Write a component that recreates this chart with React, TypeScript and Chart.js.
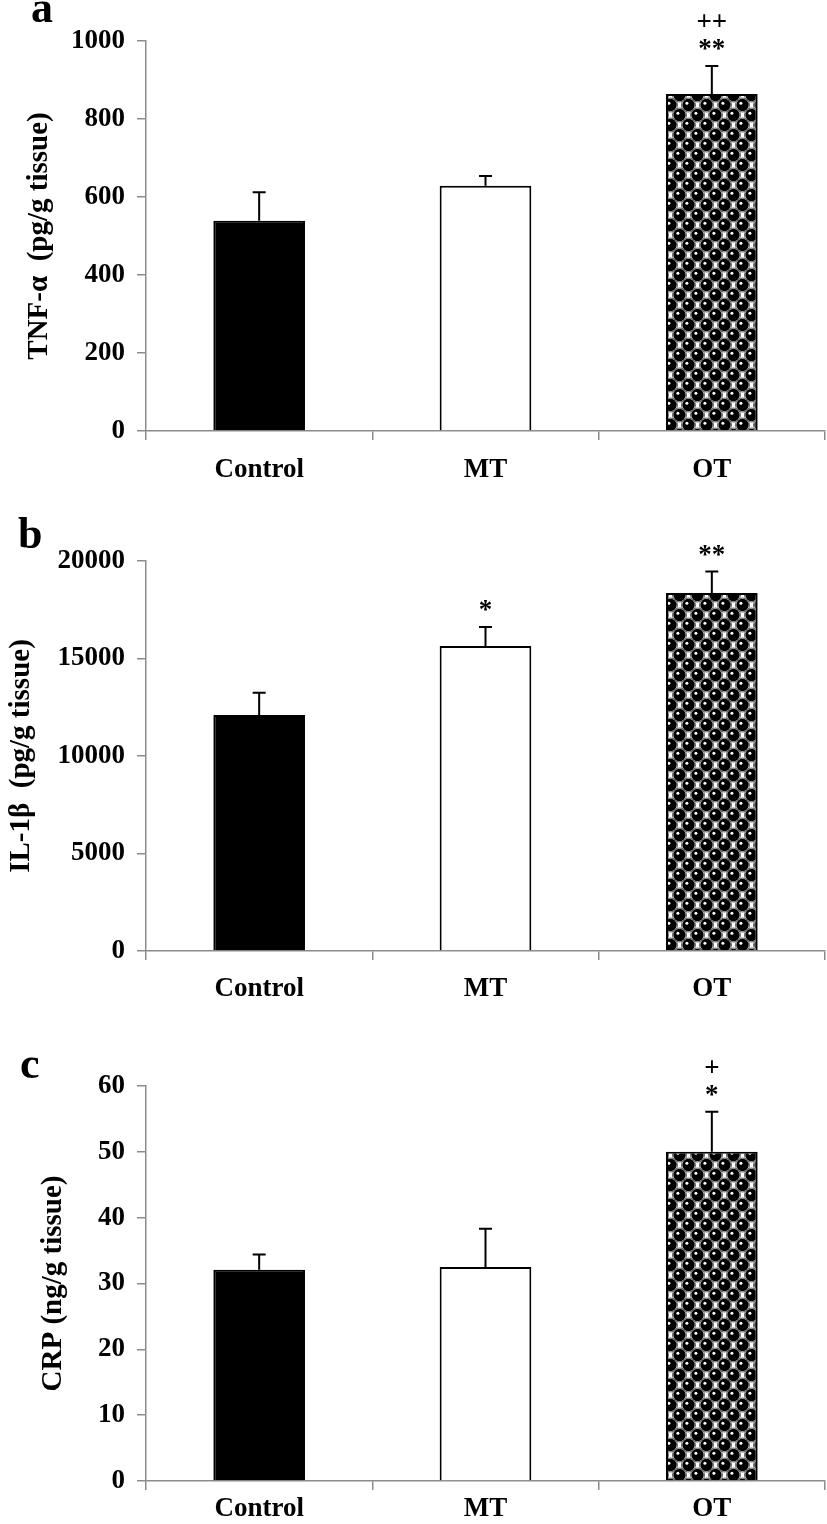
import React, { useEffect, useRef } from 'react';
import { Chart, registerables } from 'chart.js';

Chart.register(...registerables);

// ---------- data ----------
const categories = ['Control', 'MT', 'OT'];

const tnfMeans = [539, 629, 864];
const tnfSem = [73, 25, 72];
const tnfMarks = [[], [], ['**', '++']];

const il1bMeans = [12100, 15640, 18360];
const il1bSem = [1150, 980, 1100];
const il1bMarks = [[], ['*'], ['**']];

const crpMeans = [32.1, 32.5, 50.0];
const crpSem = [2.3, 5.8, 6.1];
const crpMarks = [[], [], ['*', '+']];

const FONT = "'Liberation Serif', 'Times New Roman', serif";
const AXIS_GRAY = '#8c8c8c';

function makePattern(): CanvasPattern | string {
  const tile = document.createElement('canvas');
  const w = 18;
  const h = 20;
  tile.width = w;
  tile.height = h;
  const c = tile.getContext('2d');
  if (!c) return '#555';
  c.fillStyle = '#fff';
  c.fillRect(0, 0, w, h);
  const centers = [
    [4.5, 5],
    [13.5, 15],
  ];
  for (const [cx, cy] of centers) {
    for (const dx of [-w, 0, w]) {
      for (const dy of [-h, 0, h]) {
        c.beginPath();
        c.arc(cx + dx, cy + dy, 7, 0, Math.PI * 2);
        c.strokeStyle = '#666';
        c.lineWidth = 1;
        c.stroke();
      }
    }
  }
  for (const [cx, cy] of centers) {
    for (const dx of [-w, 0, w]) {
      for (const dy of [-h, 0, h]) {
        c.beginPath();
        c.arc(cx + dx, cy + dy, 6.2, 0, Math.PI * 2);
        c.fillStyle = '#000';
        c.fill();
        c.beginPath();
        c.arc(cx + dx - 1.6, cy + dy - 1.8, 1.5, 0, Math.PI * 2);
        c.fillStyle = '#fff';
        c.fill();
      }
    }
  }
  const ctx = document.createElement('canvas').getContext('2d');
  const p = ctx ? ctx.createPattern(tile, 'repeat') : null;
  return p || '#555';
}

interface PanelProps {
  letter: string;
  letterX: number;
  letterY: number;
  title: string;
  titlePad: number;
  xPad: number;
  means: number[];
  sem: number[];
  marks: string[][];
  min: number;
  max: number;
  step: number;
  top: number;
  height: number;
  plotTop: number;
  plotBottom: number;
}

function Panel(props: PanelProps) {
  const ref = useRef<HTMLCanvasElement>(null);
  useEffect(() => {
    const canvas = ref.current;
    if (!canvas) return;
    const pattern = makePattern();
    const overlay = {
      id: 'overlay' + props.letter,
      afterDatasetsDraw(chart: any) {
        const ctx = chart.ctx as CanvasRenderingContext2D;
        const y = chart.scales.y;
        const meta = chart.getDatasetMeta(0);
        ctx.save();
        ctx.strokeStyle = '#000';
        ctx.lineWidth = 2;
        props.means.forEach((m, i) => {
          const xc = meta.data[i].x;
          const yTop = y.getPixelForValue(m);
          const yErr = y.getPixelForValue(m + props.sem[i]);
          ctx.beginPath();
          ctx.moveTo(xc, yTop);
          ctx.lineTo(xc, yErr);
          ctx.moveTo(xc - 6.5, yErr);
          ctx.lineTo(xc + 6.5, yErr);
          ctx.stroke();
          ctx.fillStyle = '#000';
          ctx.font = `bold 27px ${FONT}`;
          ctx.textAlign = 'center';
          ctx.textBaseline = 'alphabetic';
          props.marks[i].forEach((t, k) => {
            const cy = yErr - 21 - k * 24;
            const mt = ctx.measureText(t);
            const base = cy + (mt.actualBoundingBoxAscent - mt.actualBoundingBoxDescent) / 2;
            ctx.fillText(t, xc, base);
          });
        });
        ctx.font = `bold 44px ${FONT}`;
        ctx.textAlign = 'left';
        ctx.textBaseline = 'alphabetic';
        ctx.fillText(props.letter, props.letterX, props.letterY);
        ctx.restore();
      },
    };
    const tickFont = { family: FONT, size: 27, weight: 'bold' as const };
    const chart = new Chart(canvas, {
      type: 'bar',
      data: {
        labels: categories,
        datasets: [
          {
            data: props.means,
            backgroundColor: ['#000', '#fff', pattern as any],
            borderColor: '#000',
            borderWidth: 2,
            barPercentage: 0.405,
            categoryPercentage: 1,
          },
        ],
      },
      options: {
        responsive: false,
        animation: false,
        events: [],
        layout: { padding: { top: props.plotTop, right: 2, left: 0, bottom: 0 } },
        plugins: { legend: { display: false }, tooltip: { enabled: false } },
        scales: {
          x: {
            grid: {
              drawOnChartArea: false,
              offset: true,
              tickLength: 9,
              color: AXIS_GRAY,
              lineWidth: 1.5,
            },
            border: { color: AXIS_GRAY, width: 1.5 },
            ticks: { color: '#000', font: tickFont, padding: props.xPad },
            afterFit(s: any) {
              s.height = props.height - props.plotBottom;
            },
          },
          y: {
            min: props.min,
            max: props.max,
            ticks: {
              stepSize: props.step,
              color: '#000',
              font: tickFont,
              padding: 12,
              callback: (v: any) => String(v),
            },
            grid: {
              drawOnChartArea: false,
              tickLength: 9,
              color: AXIS_GRAY,
              lineWidth: 1.5,
            },
            border: { color: AXIS_GRAY, width: 1.5 },
            title: {
              display: true,
              text: props.title,
              color: '#000',
              font: { family: FONT, size: 29, weight: 'bold' },
              padding: { top: props.titlePad, bottom: 0 },
            },
            afterFit(s: any) {
              s.width = 146;
            },
          },
        },
      },
      plugins: [overlay],
    });
    return () => chart.destroy();
  }, []);
  return (
    <canvas
      ref={ref}
      width={827}
      height={props.height}
      style={{ position: 'absolute', left: 0, top: props.top, width: 827, height: props.height }}
    />
  );
}

export default function App() {
  return (
    <div style={{ position: 'absolute', left: 0, top: 0, width: 827, height: 1524, background: '#fff' }}>
      <Panel
        letter="a"
        letterX={31}
        letterY={22}
        title="TNF-α  (pg/g tissue)"
        titlePad={22}
        xPad={14}
        means={tnfMeans}
        sem={tnfSem}
        marks={tnfMarks}
        min={0}
        max={1000}
        step={200}
        top={0}
        height={500}
        plotTop={41}
        plotBottom={431}
      />
      <Panel
        letter="b"
        letterX={18}
        letterY={48}
        title="IL-1β  (pg/g tissue)"
        titlePad={4}
        xPad={13}
        means={il1bMeans}
        sem={il1bSem}
        marks={il1bMarks}
        min={0}
        max={20000}
        step={5000}
        top={500}
        height={520}
        plotTop={61}
        plotBottom={451}
      />
      <Panel
        letter="c"
        letterX={20}
        letterY={58}
        title="CRP (ng/g tissue)"
        titlePad={36}
        xPad={3}
        means={crpMeans}
        sem={crpSem}
        marks={crpMarks}
        min={0}
        max={60}
        step={10}
        top={1020}
        height={504}
        plotTop={66}
        plotBottom={461}
      />
    </div>
  );
}
